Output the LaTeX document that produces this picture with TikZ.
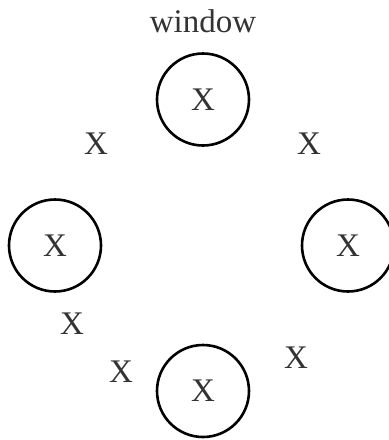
\documentclass[tikz,border=0pt]{standalone}
\usepackage{fontspec}
\setmainfont{Liberation Serif}
\begin{document}
\begin{tikzpicture}[x=1pt,y=-1pt,
  lbl/.style={text=black!80, font=\fontsize{33}{40}\selectfont, inner sep=0pt, anchor=base},
  ring/.style={circle, draw=black, line width=2.6pt, minimum size=92pt, inner sep=0pt, text=black!80, font=\fontsize{33}{40}\selectfont}]
\useasboundingbox (0,0) rectangle (389,440);
\node[lbl] (win) at (203,32) {window};
\node[ring] (top) at (203,99.5) {X};
\node[ring] (left) at (55,245.5) {X};
\node[ring] (right) at (348,245.5) {X};
\node[ring] (bottom) at (203,391) {X};
\node[lbl] (x1) at (96,154) {X};
\node[lbl] (x2) at (309,154) {X};
\node[lbl] (x3) at (72,334) {X};
\node[lbl] (x4) at (121,382) {X};
\node[lbl] (x5) at (296,368) {X};
\end{tikzpicture}
\end{document}
